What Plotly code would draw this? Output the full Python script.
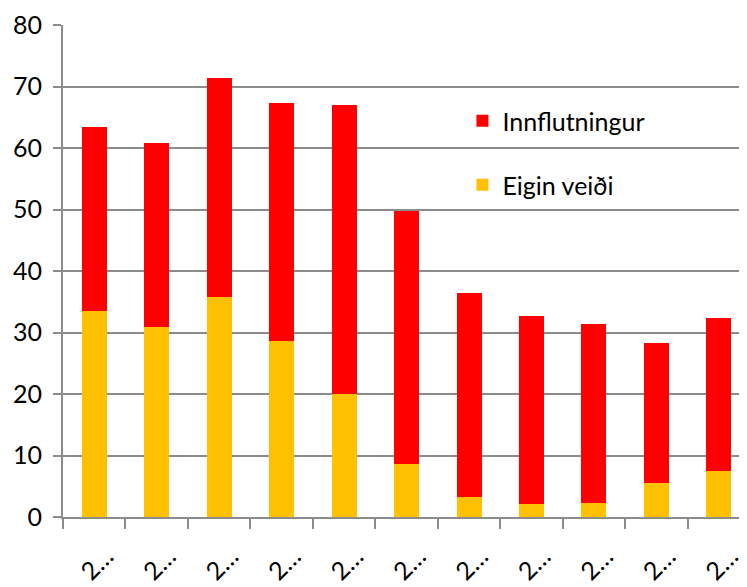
import plotly.graph_objects as go

tick_labels = ["2…"] * 11
eigin_veidi = [33.5, 30.9, 35.7, 28.6, 20.0, 8.7, 3.2, 2.1, 2.3, 5.6, 7.5]
innflutningur = [29.9, 29.9, 35.7, 38.7, 47.0, 41.1, 33.3, 30.6, 29.1, 22.7, 24.9]

x = list(range(len(tick_labels)))
FONT = dict(family="Lato, 'Open Sans', sans-serif", size=25, color="#000000")
GRID = "#8c8c8c"

fig = go.Figure()
fig.add_trace(go.Bar(x=x, y=eigin_veidi, name="Eigin veiði",
                     marker=dict(color="#FFC000", line=dict(width=0)),
                     width=0.4, legend="legend2", showlegend=True))
fig.add_trace(go.Bar(x=x, y=innflutningur, name="Innflutningur",
                     marker=dict(color="#FF0000", line=dict(width=0)),
                     width=0.4, legend="legend", showlegend=True))

fig.update_layout(
    barmode="stack",
    showlegend=True,
    width=739, height=579,
    margin=dict(l=55, r=0, t=17, b=70, autoexpand=False),
    paper_bgcolor="white", plot_bgcolor="white",
    font=FONT,
    legend=dict(x=0.584, y=(517 - 121) / 492, xanchor="left", yanchor="middle",
                bgcolor="rgba(0,0,0,0)", font=FONT),
    legend2=dict(x=0.584, y=(517 - 185) / 492, xanchor="left", yanchor="middle",
                 bgcolor="rgba(0,0,0,0)", font=FONT),
    xaxis=dict(
        range=[-0.5, 10.45], automargin=False,
        tickvals=x, ticktext=tick_labels, tickangle=-45,
        ticks="", showgrid=False, zeroline=False,
        showline=True, linecolor=GRID, linewidth=2,
        minor=dict(tick0=-0.5, dtick=1, ticks="outside", ticklen=10,
                   tickcolor=GRID, tickwidth=2, showgrid=False),
        ticklabelstandoff=13, ticklabelshift=12,
        ticklabeloverflow="allow",
    ),
    yaxis=dict(
        range=[0, 80], dtick=10, automargin=False,
        showgrid=True, gridcolor=GRID, gridwidth=2,
        zeroline=False, showline=True, linecolor=GRID, linewidth=2,
        ticks="outside", ticklen=8, tickcolor=GRID, tickwidth=2,
        ticklabelstandoff=6,
    ),
)

fig.write_html("out.html")
